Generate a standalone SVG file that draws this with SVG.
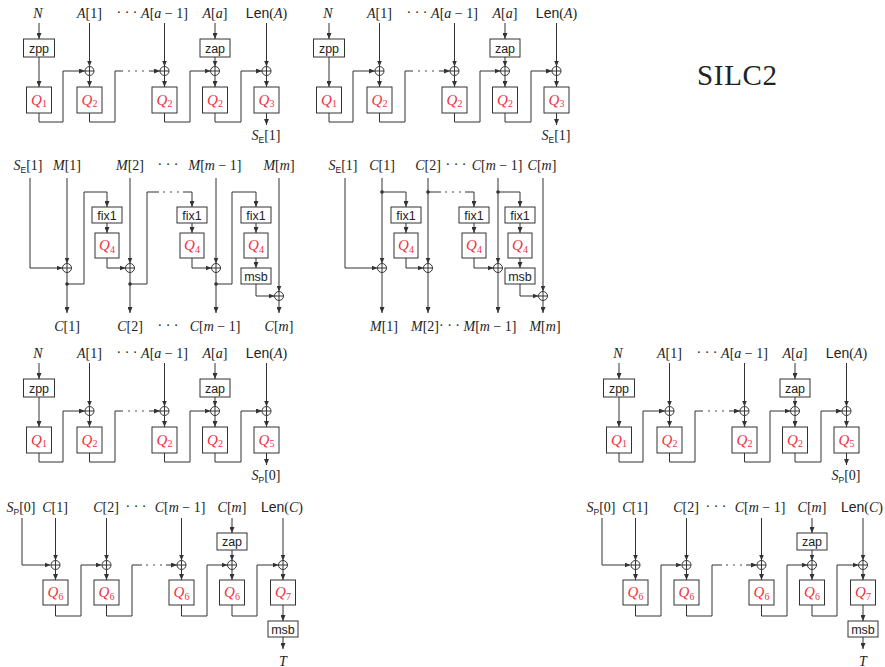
<svg xmlns="http://www.w3.org/2000/svg" xmlns:xlink="http://www.w3.org/1999/xlink" width="885" height="667" viewBox="0 0 885 667">
<style>
.ln{fill:none;stroke:#333;stroke-width:1}
.ar{marker-end:url(#ah)}
.box{fill:#fff;stroke:#333;stroke-width:1}
.t{font-family:"Liberation Serif",serif;font-size:14px;fill:#222;text-anchor:middle}
.i{font-style:italic}
.sf{font-family:"Liberation Sans",sans-serif}
.bt{font-family:"Liberation Sans",sans-serif;font-size:12.5px;fill:#222;text-anchor:middle}
.q{font-family:"Liberation Serif",serif;font-size:15px;fill:#ee3344;text-anchor:middle;font-style:italic}
.sub{font-size:10px;font-style:normal}
.dot{fill:#333}
.title{font-family:"Liberation Serif",serif;font-size:29px;fill:#222;text-anchor:middle}
</style>
<defs>
<marker id="ah" viewBox="0 0 6 5" refX="6" refY="2.5" markerWidth="6" markerHeight="5" markerUnits="userSpaceOnUse" orient="auto"><path d="M0,0L6,2.5L0,5z" fill="#333"/></marker>
<g id="xor"><circle r="4.5" fill="#fff" stroke="#333" stroke-width="1"/><path d="M-4.5,0H4.5M0,-4.5V4.5" stroke="#333" stroke-width="1"/></g>
</defs>
<rect width="885" height="667" fill="#fff"/>

<text id="title" class="title" x="737" y="85" textLength="80">SILC2</text>

<!-- ===== Block A (top-left) ===== -->
<g id="blkA">
<g id="blkA-conn">
<path class="ln ar" d="M39 23V39"/>
<path class="ln ar" d="M39 57V87"/>
<path class="ln ar" d="M39 113V122H63V71H85"/>
<path class="ln ar" d="M89.5 23V66.5"/>
<path class="ln ar" d="M89.5 75.5V87"/>
<path class="ln" d="M89.5 113V122H115V71H123"/>
<circle class="dot" cx="129" cy="71" r="0.8"/><circle class="dot" cx="136" cy="71" r="0.8"/><circle class="dot" cx="143" cy="71" r="0.8"/>
<path class="ln ar" d="M149 71H160"/>
<path class="ln ar" d="M164.5 23V66.5"/>
<path class="ln ar" d="M164.5 75.5V87"/>
<path class="ln ar" d="M164.5 113V122H190V71H210.5"/>
<path class="ln ar" d="M215 23V39"/>
<path class="ln ar" d="M215 57V66.5"/>
<path class="ln ar" d="M215 75.5V87"/>
<path class="ln ar" d="M215 113V122H241V71H262"/>
<path class="ln ar" d="M266.5 23V66.5"/>
<path class="ln ar" d="M266.5 75.5V87"/>
<path class="ln ar" d="M266.5 113V125"/>
</g>
<g id="blkA-zpp"><rect class="box" x="23.5" y="39" width="31" height="18"/><text class="bt" x="39" y="52.5">zpp</text></g>
<g id="blkA-q1"><rect class="box" x="26.5" y="87" width="25" height="26"/><text class="q" x="39" y="104.5">Q<tspan class="sub" dy="2.5">1</tspan></text></g>
<g id="blkA-x1"><use xlink:href="#xor" x="89.5" y="71"/></g>
<g id="blkA-q2a"><rect class="box" x="77" y="87" width="25" height="26"/><text class="q" x="89.5" y="104.5">Q<tspan class="sub" dy="2.5">2</tspan></text></g>
<g id="blkA-x2"><use xlink:href="#xor" x="164.5" y="71"/></g>
<g id="blkA-q2b"><rect class="box" x="152" y="87" width="25" height="26"/><text class="q" x="164.5" y="104.5">Q<tspan class="sub" dy="2.5">2</tspan></text></g>
<g id="blkA-zap"><rect class="box" x="200" y="39" width="30" height="18"/><text class="bt" x="215" y="52.5">zap</text></g>
<g id="blkA-x3"><use xlink:href="#xor" x="215" y="71"/></g>
<g id="blkA-q2c"><rect class="box" x="202.5" y="87" width="25" height="26"/><text class="q" x="215" y="104.5">Q<tspan class="sub" dy="2.5">2</tspan></text></g>
<g id="blkA-x4"><use xlink:href="#xor" x="266.5" y="71"/></g>
<g id="blkA-q3"><rect class="box" x="254" y="87" width="25" height="26"/><text class="q" x="266.5" y="104.5">Q<tspan class="sub" dy="2.5">3</tspan></text></g>
<g id="blkA-labels">
<text class="t i" x="38" y="17.5">N</text>
<text class="t" x="89.5" y="17.5"><tspan class="i">A</tspan>[1]</text>
<text class="t" x="127" y="16.5">· · ·</text>
<text class="t" x="164.5" y="17.5"><tspan class="i">A</tspan>[<tspan class="i">a</tspan> − 1]</text>
<text class="t" x="215" y="17.5"><tspan class="i">A</tspan>[<tspan class="i">a</tspan>]</text>
<text class="t" x="266.5" y="17.5"><tspan class="sf">Len</tspan>(<tspan class="i">A</tspan>)</text>
<text class="t" x="266" y="140"><tspan class="i">S</tspan><tspan class="sf" font-size="8.5" dy="2.5">E</tspan><tspan dy="-2.5">[1]</tspan></text>
</g>
</g>

<!-- ===== Block B (top-middle) ===== -->
<g id="blkB" transform="translate(290,0)">
<g id="blkB-conn">
<path class="ln ar" d="M39 23V39"/>
<path class="ln ar" d="M39 57V87"/>
<path class="ln ar" d="M39 113V122H63V71H85"/>
<path class="ln ar" d="M89.5 23V66.5"/>
<path class="ln ar" d="M89.5 75.5V87"/>
<path class="ln" d="M89.5 113V122H115V71H123"/>
<circle class="dot" cx="129" cy="71" r="0.8"/><circle class="dot" cx="136" cy="71" r="0.8"/><circle class="dot" cx="143" cy="71" r="0.8"/>
<path class="ln ar" d="M149 71H160"/>
<path class="ln ar" d="M164.5 23V66.5"/>
<path class="ln ar" d="M164.5 75.5V87"/>
<path class="ln ar" d="M164.5 113V122H190V71H210.5"/>
<path class="ln ar" d="M215 23V39"/>
<path class="ln ar" d="M215 57V66.5"/>
<path class="ln ar" d="M215 75.5V87"/>
<path class="ln ar" d="M215 113V122H241V71H262"/>
<path class="ln ar" d="M266.5 23V66.5"/>
<path class="ln ar" d="M266.5 75.5V87"/>
<path class="ln ar" d="M266.5 113V125"/>
</g>
<g id="blkB-zpp"><rect class="box" x="23.5" y="39" width="31" height="18"/><text class="bt" x="39" y="52.5">zpp</text></g>
<g id="blkB-q1"><rect class="box" x="26.5" y="87" width="25" height="26"/><text class="q" x="39" y="104.5">Q<tspan class="sub" dy="2.5">1</tspan></text></g>
<g id="blkB-x1"><use xlink:href="#xor" x="89.5" y="71"/></g>
<g id="blkB-q2a"><rect class="box" x="77" y="87" width="25" height="26"/><text class="q" x="89.5" y="104.5">Q<tspan class="sub" dy="2.5">2</tspan></text></g>
<g id="blkB-x2"><use xlink:href="#xor" x="164.5" y="71"/></g>
<g id="blkB-q2b"><rect class="box" x="152" y="87" width="25" height="26"/><text class="q" x="164.5" y="104.5">Q<tspan class="sub" dy="2.5">2</tspan></text></g>
<g id="blkB-zap"><rect class="box" x="200" y="39" width="30" height="18"/><text class="bt" x="215" y="52.5">zap</text></g>
<g id="blkB-x3"><use xlink:href="#xor" x="215" y="71"/></g>
<g id="blkB-q2c"><rect class="box" x="202.5" y="87" width="25" height="26"/><text class="q" x="215" y="104.5">Q<tspan class="sub" dy="2.5">2</tspan></text></g>
<g id="blkB-x4"><use xlink:href="#xor" x="266.5" y="71"/></g>
<g id="blkB-q3"><rect class="box" x="254" y="87" width="25" height="26"/><text class="q" x="266.5" y="104.5">Q<tspan class="sub" dy="2.5">3</tspan></text></g>
<g id="blkB-labels">
<text class="t i" x="38" y="17.5">N</text>
<text class="t" x="89.5" y="17.5"><tspan class="i">A</tspan>[1]</text>
<text class="t" x="127" y="16.5">· · ·</text>
<text class="t" x="164.5" y="17.5"><tspan class="i">A</tspan>[<tspan class="i">a</tspan> − 1]</text>
<text class="t" x="215" y="17.5"><tspan class="i">A</tspan>[<tspan class="i">a</tspan>]</text>
<text class="t" x="266.5" y="17.5"><tspan class="sf">Len</tspan>(<tspan class="i">A</tspan>)</text>
<text class="t" x="266" y="140"><tspan class="i">S</tspan><tspan class="sf" font-size="8.5" dy="2.5">E</tspan><tspan dy="-2.5">[1]</tspan></text>
</g>
</g>

<!-- ===== Block C (encryption) ===== -->
<g id="blkC">
<g id="blkC-conn">
<path class="ln ar" d="M30 178V268H62.5"/>
<path class="ln ar" d="M67 178V263.5"/>
<path class="ln ar" d="M67 272.5V313"/>
<circle class="dot" cx="67" cy="284" r="1.8"/>
<path class="ln ar" d="M67 284H84V192H107V207"/>
<path class="ln ar" d="M107 223V233"/>
<path class="ln ar" d="M107 258V268H125.5"/>
<path class="ln ar" d="M130 178V263.5"/>
<path class="ln ar" d="M130 272.5V313"/>
<circle class="dot" cx="130" cy="284" r="1.8"/>
<path class="ln" d="M130 284H147V192H159"/>
<circle class="dot" cx="164" cy="192" r="0.8"/><circle class="dot" cx="171" cy="192" r="0.8"/><circle class="dot" cx="178" cy="192" r="0.8"/>
<path class="ln ar" d="M183 192H192V207"/>
<path class="ln ar" d="M192 223V233"/>
<path class="ln ar" d="M192 258V268H211.5"/>
<path class="ln ar" d="M216 178V263.5"/>
<path class="ln ar" d="M216 272.5V313"/>
<circle class="dot" cx="216" cy="284" r="1.8"/>
<path class="ln ar" d="M216 284H232V192H256V207"/>
<path class="ln ar" d="M256 223V233"/>
<path class="ln ar" d="M256 258V268"/>
<path class="ln ar" d="M256 284V296H274.5"/>
<path class="ln ar" d="M279 178V291.5"/>
<path class="ln ar" d="M279 300.5V313"/>
</g>
<g id="blkC-x1"><use xlink:href="#xor" x="67" y="268"/></g>
<g id="blkC-f1"><rect class="box" x="92" y="207" width="30" height="16"/><text class="bt" x="107" y="219.5">fix1</text></g>
<g id="blkC-q4a"><rect class="box" x="95" y="233" width="24" height="25"/><text class="q" x="107" y="250">Q<tspan class="sub" dy="2.5">4</tspan></text></g>
<g id="blkC-x2"><use xlink:href="#xor" x="130" y="268"/></g>
<g id="blkC-f2"><rect class="box" x="177" y="207" width="30" height="16"/><text class="bt" x="192" y="219.5">fix1</text></g>
<g id="blkC-q4b"><rect class="box" x="180" y="233" width="24" height="25"/><text class="q" x="192" y="250">Q<tspan class="sub" dy="2.5">4</tspan></text></g>
<g id="blkC-x3"><use xlink:href="#xor" x="216" y="268"/></g>
<g id="blkC-f3"><rect class="box" x="241" y="207" width="30" height="16"/><text class="bt" x="256" y="219.5">fix1</text></g>
<g id="blkC-q4c"><rect class="box" x="244" y="233" width="24" height="25"/><text class="q" x="256" y="250">Q<tspan class="sub" dy="2.5">4</tspan></text></g>
<g id="blkC-msb"><rect class="box" x="241" y="268" width="30" height="16"/><text class="bt" x="256" y="280.5">msb</text></g>
<g id="blkC-x4"><use xlink:href="#xor" x="279" y="296"/></g>
<g id="blkC-labels">
<text class="t" x="28" y="170"><tspan class="i">S</tspan><tspan class="sf" font-size="8.5" dy="2.5">E</tspan><tspan dy="-2.5">[1]</tspan></text>
<text class="t" x="67" y="170"><tspan class="i">M</tspan>[1]</text>
<text class="t" x="130" y="170"><tspan class="i">M</tspan>[2]</text>
<text class="t" x="168" y="169">· · ·</text>
<text class="t" x="215" y="170"><tspan class="i">M</tspan>[<tspan class="i">m</tspan> − 1]</text>
<text class="t" x="279" y="170"><tspan class="i">M</tspan>[<tspan class="i">m</tspan>]</text>
<text class="t" x="67" y="331"><tspan class="i">C</tspan>[1]</text>
<text class="t" x="130" y="331"><tspan class="i">C</tspan>[2]</text>
<text class="t" x="168" y="330">· · ·</text>
<text class="t" x="215" y="331"><tspan class="i">C</tspan>[<tspan class="i">m</tspan> − 1]</text>
<text class="t" x="279" y="331"><tspan class="i">C</tspan>[<tspan class="i">m</tspan>]</text>
</g>
</g>

<!-- ===== Block D (decryption) ===== -->
<g id="blkD">
<g id="blkD-conn">
<path class="ln ar" d="M345 178V268H377.5"/>
<path class="ln ar" d="M382 178V263.5"/>
<path class="ln ar" d="M382 272.5V313"/>
<circle class="dot" cx="382" cy="192" r="1.8"/>
<path class="ln ar" d="M382 192H406V207"/>
<path class="ln ar" d="M406 223V233"/>
<path class="ln ar" d="M406 258V268H423.5"/>
<path class="ln ar" d="M428 178V263.5"/>
<path class="ln ar" d="M428 272.5V313"/>
<circle class="dot" cx="428" cy="192" r="1.8"/>
<path class="ln" d="M428 192H441"/>
<circle class="dot" cx="446" cy="192" r="0.8"/><circle class="dot" cx="453" cy="192" r="0.8"/><circle class="dot" cx="460" cy="192" r="0.8"/>
<path class="ln ar" d="M465 192H474V207"/>
<path class="ln ar" d="M474 223V233"/>
<path class="ln ar" d="M474 258V268H493.5"/>
<path class="ln ar" d="M498 178V263.5"/>
<path class="ln ar" d="M498 272.5V313"/>
<circle class="dot" cx="498" cy="192" r="1.8"/>
<path class="ln ar" d="M498 192H520V207"/>
<path class="ln ar" d="M520 223V233"/>
<path class="ln ar" d="M520 258V268"/>
<path class="ln ar" d="M520 284V296H538.5"/>
<path class="ln ar" d="M543 178V291.5"/>
<path class="ln ar" d="M543 300.5V313"/>
</g>
<g id="blkD-x1"><use xlink:href="#xor" x="382" y="268"/></g>
<g id="blkD-f1"><rect class="box" x="391" y="207" width="30" height="16"/><text class="bt" x="406" y="219.5">fix1</text></g>
<g id="blkD-q4a"><rect class="box" x="394" y="233" width="24" height="25"/><text class="q" x="406" y="250">Q<tspan class="sub" dy="2.5">4</tspan></text></g>
<g id="blkD-x2"><use xlink:href="#xor" x="428" y="268"/></g>
<g id="blkD-f2"><rect class="box" x="459" y="207" width="30" height="16"/><text class="bt" x="474" y="219.5">fix1</text></g>
<g id="blkD-q4b"><rect class="box" x="462" y="233" width="24" height="25"/><text class="q" x="474" y="250">Q<tspan class="sub" dy="2.5">4</tspan></text></g>
<g id="blkD-x3"><use xlink:href="#xor" x="498" y="268"/></g>
<g id="blkD-f3"><rect class="box" x="505" y="207" width="30" height="16"/><text class="bt" x="520" y="219.5">fix1</text></g>
<g id="blkD-q4c"><rect class="box" x="508" y="233" width="24" height="25"/><text class="q" x="520" y="250">Q<tspan class="sub" dy="2.5">4</tspan></text></g>
<g id="blkD-msb"><rect class="box" x="505" y="268" width="30" height="16"/><text class="bt" x="520" y="280.5">msb</text></g>
<g id="blkD-x4"><use xlink:href="#xor" x="543" y="296"/></g>
<g id="blkD-labels">
<text class="t" x="343" y="170"><tspan class="i">S</tspan><tspan class="sf" font-size="8.5" dy="2.5">E</tspan><tspan dy="-2.5">[1]</tspan></text>
<text class="t" x="382" y="170"><tspan class="i">C</tspan>[1]</text>
<text class="t" x="428" y="170"><tspan class="i">C</tspan>[2]</text>
<text class="t" x="456" y="169">· · ·</text>
<text class="t" x="497" y="170"><tspan class="i">C</tspan>[<tspan class="i">m</tspan> − 1]</text>
<text class="t" x="542" y="170"><tspan class="i">C</tspan>[<tspan class="i">m</tspan>]</text>
<text class="t" x="384" y="331"><tspan class="i">M</tspan>[1]</text>
<text class="t" x="425" y="331"><tspan class="i">M</tspan>[2]</text>
<text class="t" x="449.5" y="330">· · ·</text>
<text class="t" x="490" y="331"><tspan class="i">M</tspan>[<tspan class="i">m</tspan> − 1]</text>
<text class="t" x="545" y="331"><tspan class="i">M</tspan>[<tspan class="i">m</tspan>]</text>
</g>
</g>

<!-- ===== Block E (bottom-left PRF) ===== -->
<g id="blkE" transform="translate(0,340)">
<g id="blkE-conn">
<path class="ln ar" d="M39 23V39"/>
<path class="ln ar" d="M39 57V87"/>
<path class="ln ar" d="M39 113V122H63V71H85"/>
<path class="ln ar" d="M89.5 23V66.5"/>
<path class="ln ar" d="M89.5 75.5V87"/>
<path class="ln" d="M89.5 113V122H115V71H123"/>
<circle class="dot" cx="129" cy="71" r="0.8"/><circle class="dot" cx="136" cy="71" r="0.8"/><circle class="dot" cx="143" cy="71" r="0.8"/>
<path class="ln ar" d="M149 71H160"/>
<path class="ln ar" d="M164.5 23V66.5"/>
<path class="ln ar" d="M164.5 75.5V87"/>
<path class="ln ar" d="M164.5 113V122H190V71H210.5"/>
<path class="ln ar" d="M215 23V39"/>
<path class="ln ar" d="M215 57V66.5"/>
<path class="ln ar" d="M215 75.5V87"/>
<path class="ln ar" d="M215 113V122H241V71H262"/>
<path class="ln ar" d="M266.5 23V66.5"/>
<path class="ln ar" d="M266.5 75.5V87"/>
<path class="ln ar" d="M266.5 113V125"/>
</g>
<g id="blkE-zpp"><rect class="box" x="23.5" y="39" width="31" height="18"/><text class="bt" x="39" y="52.5">zpp</text></g>
<g id="blkE-q1"><rect class="box" x="26.5" y="87" width="25" height="26"/><text class="q" x="39" y="104.5">Q<tspan class="sub" dy="2.5">1</tspan></text></g>
<g id="blkE-x1"><use xlink:href="#xor" x="89.5" y="71"/></g>
<g id="blkE-q2a"><rect class="box" x="77" y="87" width="25" height="26"/><text class="q" x="89.5" y="104.5">Q<tspan class="sub" dy="2.5">2</tspan></text></g>
<g id="blkE-x2"><use xlink:href="#xor" x="164.5" y="71"/></g>
<g id="blkE-q2b"><rect class="box" x="152" y="87" width="25" height="26"/><text class="q" x="164.5" y="104.5">Q<tspan class="sub" dy="2.5">2</tspan></text></g>
<g id="blkE-zap"><rect class="box" x="200" y="39" width="30" height="18"/><text class="bt" x="215" y="52.5">zap</text></g>
<g id="blkE-x3"><use xlink:href="#xor" x="215" y="71"/></g>
<g id="blkE-q2c"><rect class="box" x="202.5" y="87" width="25" height="26"/><text class="q" x="215" y="104.5">Q<tspan class="sub" dy="2.5">2</tspan></text></g>
<g id="blkE-x4"><use xlink:href="#xor" x="266.5" y="71"/></g>
<g id="blkE-q5"><rect class="box" x="254" y="87" width="25" height="26"/><text class="q" x="266.5" y="104.5">Q<tspan class="sub" dy="2.5">5</tspan></text></g>
<g id="blkE-labels">
<text class="t i" x="38" y="17.5">N</text>
<text class="t" x="89.5" y="17.5"><tspan class="i">A</tspan>[1]</text>
<text class="t" x="127" y="16.5">· · ·</text>
<text class="t" x="164.5" y="17.5"><tspan class="i">A</tspan>[<tspan class="i">a</tspan> − 1]</text>
<text class="t" x="215" y="17.5"><tspan class="i">A</tspan>[<tspan class="i">a</tspan>]</text>
<text class="t" x="266.5" y="17.5"><tspan class="sf">Len</tspan>(<tspan class="i">A</tspan>)</text>
<text class="t" x="266" y="140"><tspan class="i">S</tspan><tspan class="sf" font-size="8.5" dy="2.5">P</tspan><tspan dy="-2.5">[0]</tspan></text>
</g>
</g>

<!-- ===== Block F (bottom-right PRF) ===== -->
<g id="blkF" transform="translate(580,340)">
<g id="blkF-conn">
<path class="ln ar" d="M39 23V39"/>
<path class="ln ar" d="M39 57V87"/>
<path class="ln ar" d="M39 113V122H63V71H85"/>
<path class="ln ar" d="M89.5 23V66.5"/>
<path class="ln ar" d="M89.5 75.5V87"/>
<path class="ln" d="M89.5 113V122H115V71H123"/>
<circle class="dot" cx="129" cy="71" r="0.8"/><circle class="dot" cx="136" cy="71" r="0.8"/><circle class="dot" cx="143" cy="71" r="0.8"/>
<path class="ln ar" d="M149 71H160"/>
<path class="ln ar" d="M164.5 23V66.5"/>
<path class="ln ar" d="M164.5 75.5V87"/>
<path class="ln ar" d="M164.5 113V122H190V71H210.5"/>
<path class="ln ar" d="M215 23V39"/>
<path class="ln ar" d="M215 57V66.5"/>
<path class="ln ar" d="M215 75.5V87"/>
<path class="ln ar" d="M215 113V122H241V71H262"/>
<path class="ln ar" d="M266.5 23V66.5"/>
<path class="ln ar" d="M266.5 75.5V87"/>
<path class="ln ar" d="M266.5 113V125"/>
</g>
<g id="blkF-zpp"><rect class="box" x="23.5" y="39" width="31" height="18"/><text class="bt" x="39" y="52.5">zpp</text></g>
<g id="blkF-q1"><rect class="box" x="26.5" y="87" width="25" height="26"/><text class="q" x="39" y="104.5">Q<tspan class="sub" dy="2.5">1</tspan></text></g>
<g id="blkF-x1"><use xlink:href="#xor" x="89.5" y="71"/></g>
<g id="blkF-q2a"><rect class="box" x="77" y="87" width="25" height="26"/><text class="q" x="89.5" y="104.5">Q<tspan class="sub" dy="2.5">2</tspan></text></g>
<g id="blkF-x2"><use xlink:href="#xor" x="164.5" y="71"/></g>
<g id="blkF-q2b"><rect class="box" x="152" y="87" width="25" height="26"/><text class="q" x="164.5" y="104.5">Q<tspan class="sub" dy="2.5">2</tspan></text></g>
<g id="blkF-zap"><rect class="box" x="200" y="39" width="30" height="18"/><text class="bt" x="215" y="52.5">zap</text></g>
<g id="blkF-x3"><use xlink:href="#xor" x="215" y="71"/></g>
<g id="blkF-q2c"><rect class="box" x="202.5" y="87" width="25" height="26"/><text class="q" x="215" y="104.5">Q<tspan class="sub" dy="2.5">2</tspan></text></g>
<g id="blkF-x4"><use xlink:href="#xor" x="266.5" y="71"/></g>
<g id="blkF-q5"><rect class="box" x="254" y="87" width="25" height="26"/><text class="q" x="266.5" y="104.5">Q<tspan class="sub" dy="2.5">5</tspan></text></g>
<g id="blkF-labels">
<text class="t i" x="38" y="17.5">N</text>
<text class="t" x="89.5" y="17.5"><tspan class="i">A</tspan>[1]</text>
<text class="t" x="127" y="16.5">· · ·</text>
<text class="t" x="164.5" y="17.5"><tspan class="i">A</tspan>[<tspan class="i">a</tspan> − 1]</text>
<text class="t" x="215" y="17.5"><tspan class="i">A</tspan>[<tspan class="i">a</tspan>]</text>
<text class="t" x="266.5" y="17.5"><tspan class="sf">Len</tspan>(<tspan class="i">A</tspan>)</text>
<text class="t" x="266" y="140"><tspan class="i">S</tspan><tspan class="sf" font-size="8.5" dy="2.5">P</tspan><tspan dy="-2.5">[0]</tspan></text>
</g>
</g>

<!-- ===== Block G (bottom-left tag) ===== -->
<g id="blkG">
<g id="blkG-conn">
<path class="ln ar" d="M22 518V565H50.5"/>
<path class="ln ar" d="M55.5 518V560.5"/>
<path class="ln ar" d="M55.5 569.5V580"/>
<path class="ln ar" d="M55.5 605V616H81V565H101.5"/>
<path class="ln ar" d="M106.5 518V560.5"/>
<path class="ln ar" d="M106.5 569.5V580"/>
<path class="ln" d="M106.5 605V616H132V565H142"/>
<circle class="dot" cx="147" cy="565" r="0.8"/><circle class="dot" cx="154" cy="565" r="0.8"/><circle class="dot" cx="161" cy="565" r="0.8"/>
<path class="ln ar" d="M166 565H177"/>
<path class="ln ar" d="M181.5 518V560.5"/>
<path class="ln ar" d="M181.5 569.5V580"/>
<path class="ln ar" d="M181.5 605V616H207V565H227.5"/>
<path class="ln ar" d="M232 518V533"/>
<path class="ln ar" d="M232 550V560.5"/>
<path class="ln ar" d="M232 569.5V580"/>
<path class="ln ar" d="M232 605V616H257V565H278.5"/>
<path class="ln ar" d="M283 518V560.5"/>
<path class="ln ar" d="M283 569.5V580"/>
<path class="ln ar" d="M283 605V621"/>
<path class="ln ar" d="M283 637V649"/>
</g>
<g id="blkG-x1"><use xlink:href="#xor" x="55.5" y="565"/></g>
<g id="blkG-q6a"><rect class="box" x="43" y="580" width="25" height="25"/><text class="q" x="55.5" y="597">Q<tspan class="sub" dy="2.5">6</tspan></text></g>
<g id="blkG-x2"><use xlink:href="#xor" x="106.5" y="565"/></g>
<g id="blkG-q6b"><rect class="box" x="94" y="580" width="25" height="25"/><text class="q" x="106.5" y="597">Q<tspan class="sub" dy="2.5">6</tspan></text></g>
<g id="blkG-x3"><use xlink:href="#xor" x="181.5" y="565"/></g>
<g id="blkG-q6c"><rect class="box" x="169" y="580" width="25" height="25"/><text class="q" x="181.5" y="597">Q<tspan class="sub" dy="2.5">6</tspan></text></g>
<g id="blkG-zap"><rect class="box" x="217" y="533" width="30" height="17"/><text class="bt" x="232" y="546">zap</text></g>
<g id="blkG-x4"><use xlink:href="#xor" x="232" y="565"/></g>
<g id="blkG-q6d"><rect class="box" x="219.5" y="580" width="25" height="25"/><text class="q" x="232" y="597">Q<tspan class="sub" dy="2.5">6</tspan></text></g>
<g id="blkG-x5"><use xlink:href="#xor" x="283" y="565"/></g>
<g id="blkG-q7"><rect class="box" x="270.5" y="580" width="25" height="25"/><text class="q" x="283" y="597">Q<tspan class="sub" dy="2.5">7</tspan></text></g>
<g id="blkG-msb"><rect class="box" x="268" y="621" width="30" height="16"/><text class="bt" x="283" y="633.5">msb</text></g>
<g id="blkG-labels">
<text class="t" x="21" y="512"><tspan class="i">S</tspan><tspan class="sf" font-size="8.5" dy="2.5">P</tspan><tspan dy="-2.5">[0]</tspan></text>
<text class="t" x="55" y="512"><tspan class="i">C</tspan>[1]</text>
<text class="t" x="106" y="512"><tspan class="i">C</tspan>[2]</text>
<text class="t" x="136" y="511">· · ·</text>
<text class="t" x="180" y="512"><tspan class="i">C</tspan>[<tspan class="i">m</tspan> − 1]</text>
<text class="t" x="232" y="512"><tspan class="i">C</tspan>[<tspan class="i">m</tspan>]</text>
<text class="t" x="282" y="512"><tspan class="sf">Len</tspan>(<tspan class="i">C</tspan>)</text>
<text class="t i" x="283" y="665.5">T</text>
</g>
</g>

<!-- ===== Block H (bottom-right tag) ===== -->
<g id="blkH" transform="translate(580,0)">
<g id="blkH-conn">
<path class="ln ar" d="M22 518V565H50.5"/>
<path class="ln ar" d="M55.5 518V560.5"/>
<path class="ln ar" d="M55.5 569.5V580"/>
<path class="ln ar" d="M55.5 605V616H81V565H101.5"/>
<path class="ln ar" d="M106.5 518V560.5"/>
<path class="ln ar" d="M106.5 569.5V580"/>
<path class="ln" d="M106.5 605V616H132V565H142"/>
<circle class="dot" cx="147" cy="565" r="0.8"/><circle class="dot" cx="154" cy="565" r="0.8"/><circle class="dot" cx="161" cy="565" r="0.8"/>
<path class="ln ar" d="M166 565H177"/>
<path class="ln ar" d="M181.5 518V560.5"/>
<path class="ln ar" d="M181.5 569.5V580"/>
<path class="ln ar" d="M181.5 605V616H207V565H227.5"/>
<path class="ln ar" d="M232 518V533"/>
<path class="ln ar" d="M232 550V560.5"/>
<path class="ln ar" d="M232 569.5V580"/>
<path class="ln ar" d="M232 605V616H257V565H278.5"/>
<path class="ln ar" d="M283 518V560.5"/>
<path class="ln ar" d="M283 569.5V580"/>
<path class="ln ar" d="M283 605V621"/>
<path class="ln ar" d="M283 637V649"/>
</g>
<g id="blkH-x1"><use xlink:href="#xor" x="55.5" y="565"/></g>
<g id="blkH-q6a"><rect class="box" x="43" y="580" width="25" height="25"/><text class="q" x="55.5" y="597">Q<tspan class="sub" dy="2.5">6</tspan></text></g>
<g id="blkH-x2"><use xlink:href="#xor" x="106.5" y="565"/></g>
<g id="blkH-q6b"><rect class="box" x="94" y="580" width="25" height="25"/><text class="q" x="106.5" y="597">Q<tspan class="sub" dy="2.5">6</tspan></text></g>
<g id="blkH-x3"><use xlink:href="#xor" x="181.5" y="565"/></g>
<g id="blkH-q6c"><rect class="box" x="169" y="580" width="25" height="25"/><text class="q" x="181.5" y="597">Q<tspan class="sub" dy="2.5">6</tspan></text></g>
<g id="blkH-zap"><rect class="box" x="217" y="533" width="30" height="17"/><text class="bt" x="232" y="546">zap</text></g>
<g id="blkH-x4"><use xlink:href="#xor" x="232" y="565"/></g>
<g id="blkH-q6d"><rect class="box" x="219.5" y="580" width="25" height="25"/><text class="q" x="232" y="597">Q<tspan class="sub" dy="2.5">6</tspan></text></g>
<g id="blkH-x5"><use xlink:href="#xor" x="283" y="565"/></g>
<g id="blkH-q7"><rect class="box" x="270.5" y="580" width="25" height="25"/><text class="q" x="283" y="597">Q<tspan class="sub" dy="2.5">7</tspan></text></g>
<g id="blkH-msb"><rect class="box" x="268" y="621" width="30" height="16"/><text class="bt" x="283" y="633.5">msb</text></g>
<g id="blkH-labels">
<text class="t" x="21" y="512"><tspan class="i">S</tspan><tspan class="sf" font-size="8.5" dy="2.5">P</tspan><tspan dy="-2.5">[0]</tspan></text>
<text class="t" x="55" y="512"><tspan class="i">C</tspan>[1]</text>
<text class="t" x="106" y="512"><tspan class="i">C</tspan>[2]</text>
<text class="t" x="136" y="511">· · ·</text>
<text class="t" x="180" y="512"><tspan class="i">C</tspan>[<tspan class="i">m</tspan> − 1]</text>
<text class="t" x="232" y="512"><tspan class="i">C</tspan>[<tspan class="i">m</tspan>]</text>
<text class="t" x="282" y="512"><tspan class="sf">Len</tspan>(<tspan class="i">C</tspan>)</text>
<text class="t i" x="283" y="665.5">T</text>
</g>
</g>
</svg>
